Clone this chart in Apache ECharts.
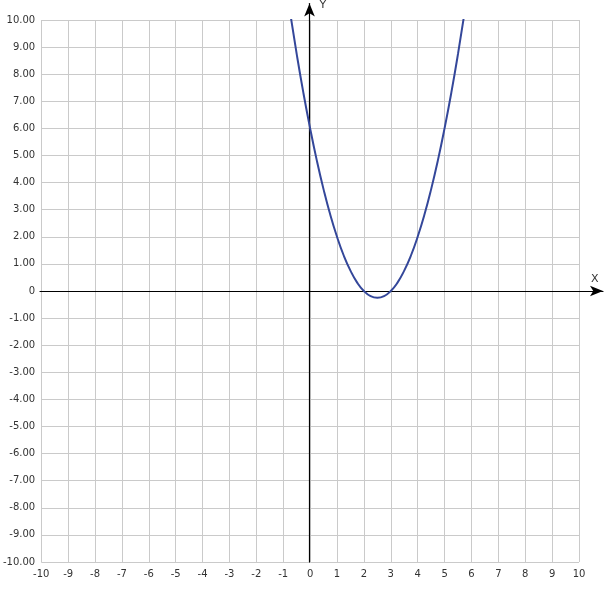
<!DOCTYPE html>
<html><head><meta charset="utf-8">
<script src="https://cdn.jsdelivr.net/npm/echarts@6/dist/echarts.min.js"></script>
<style>html,body{margin:0;padding:0;background:#fff}#c{width:607px;height:604px}</style>
</head><body><div id="c"></div>
<script>
const xValues = [-0.75,-0.5,-0.25,0,0.25,0.5,0.75,1,1.25,1.5,1.75,2,2.25,2.5,2.75,3,3.25,3.5,3.75,4,4.25,4.5,4.75,5,5.25,5.5,5.75];
const yValues = [10.31,8.75,7.31,6,4.81,3.75,2.81,2,1.31,0.75,0.31,0,-0.19,-0.25,-0.19,0,0.31,0.75,1.31,2,2.81,3.75,4.81,6,7.31,8.75,10.31];
const axisMin = -10, axisMax = 10, axisStep = 1;
const xName = 'X', yName = 'Y';

const font = 'DejaVu Sans';
const labelStyle = {color:'#333', fontFamily:font, fontSize:10};
const chart = echarts.init(document.getElementById('c'));
chart.setOption({
  animation:false,
  grid:[
    {left:40,right:28,top:20,bottom:42},
    {left:40,right:4,top:20,bottom:42},
    {left:40,right:28,top:1,bottom:42}
  ],
  xAxis:[
    {gridIndex:0,type:'value',min:axisMin,max:axisMax,interval:axisStep,
     axisLine:{show:false},axisTick:{show:false},
     splitLine:{show:true,lineStyle:{color:'#cacaca',width:1}},
     axisLabel:{...labelStyle,margin:7,formatter:v=>String(v)}},
    {gridIndex:1,type:'value',min:axisMin,max:axisMax+1,
     axisLine:{show:true,onZero:true,symbol:['none','arrow'],symbolSize:[8,13],lineStyle:{color:'#000',width:1.2}},
     axisTick:{show:false},axisLabel:{show:false},splitLine:{show:false},
     name:xName,nameLocation:'end',nameGap:-12,
     nameTextStyle:{color:'#333',fontFamily:font,fontSize:11,align:'left',verticalAlign:'bottom',padding:[0,0,6,0]}},
    {gridIndex:2,type:'value',min:axisMin,max:axisMax,
     axisLine:{show:false},axisTick:{show:false},axisLabel:{show:false},splitLine:{show:false}}
  ],
  yAxis:[
    {gridIndex:0,type:'value',min:axisMin,max:axisMax,interval:axisStep,
     axisLine:{show:false},axisTick:{show:false},
     splitLine:{show:true,lineStyle:{color:'#cacaca',width:1}},
     axisLabel:{...labelStyle,margin:6,formatter:v=>v===0?'0':v.toFixed(2)}},
    {gridIndex:1,type:'value',min:axisMin,max:axisMax,
     axisLine:{show:false},axisTick:{show:false},axisLabel:{show:false},splitLine:{show:false}},
    {gridIndex:2,type:'value',min:axisMin,max:axisMax+1,
     axisLine:{show:true,onZero:true,symbol:['none','arrow'],symbolSize:[8,13],lineStyle:{color:'#000',width:1.2}},
     axisTick:{show:false},axisLabel:{show:false},splitLine:{show:false},
     name:yName,nameLocation:'end',nameGap:-2,
     nameTextStyle:{color:'#333',fontFamily:font,fontSize:11,align:'left',verticalAlign:'middle',padding:[0,0,0,10]}}
  ],
  series:[{
    type:'line',xAxisIndex:0,yAxisIndex:0,smooth:true,showSymbol:false,
    data:xValues.map((x,i)=>[x,yValues[i]]),
    lineStyle:{color:'#34479a',width:2},z:5
  }]
});
</script></body></html>
